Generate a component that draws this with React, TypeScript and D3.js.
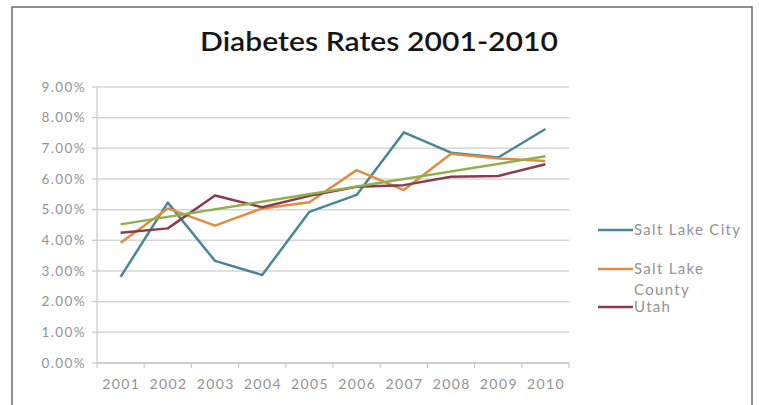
import React from "react";
import * as d3 from "d3";

const years = ["2001","2002","2003","2004","2005","2006","2007","2008","2009","2010"];
const saltLakeCity = [2.81, 5.23, 3.33, 2.87, 4.93, 5.48, 7.52, 6.86, 6.70, 7.63];
const saltLakeCounty = [3.92, 5.04, 4.48, 5.04, 5.24, 6.29, 5.64, 6.82, 6.67, 6.59];
const utah = [4.25, 4.39, 5.46, 5.08, 5.45, 5.75, 5.80, 6.07, 6.10, 6.48];
const trendEnds = [4.52, 6.74];
const yTicks = [0, 1, 2, 3, 4, 5, 6, 7, 8, 9];

const series = [
  { name: "Salt Lake City", values: saltLakeCity, color: "#4a8698" },
  { name: "Salt Lake County", values: saltLakeCounty, color: "#e08d3e" },
  { name: "Utah", values: utah, color: "#8c3a4c" },
];

export default function App() {
  const W = 759, H = 405;
  const left = 97, right = 569, top = 87, bottom = 363;
  const x = d3.scaleBand().domain(years).range([left, right]).padding(0);
  const y = d3.scaleLinear().domain([0, 9]).range([bottom, top]);
  const cx = (yr: string) => (x(yr) as number) + x.bandwidth() / 2;
  const line = d3.line<number>().x((_, i) => cx(years[i])).y((v) => y(v));
  const font = "Lato, 'Open Sans', sans-serif";
  const grey = "#939393";
  const trendX = [cx(years[0]), cx(years[years.length - 1])];

  const legend = [
    { s: series[0], ly: 230, lines: ["Salt Lake City"] },
    { s: series[1], ly: 269, lines: ["Salt Lake", "County"] },
    { s: series[2], ly: 307, lines: ["Utah"] },
  ];

  return (
    <svg width={W} height={H} style={{ position: "absolute", left: 0, top: 0, background: "#fff" }}>
      <rect x={12} y={7} width={740} height={430} fill="#fff" stroke="#6a6a6a" strokeWidth={1.5} />
      <text x={379} y={51} textAnchor="middle" fontFamily={font} fontSize={26} fontWeight={600} fill="#151515" textLength={358} lengthAdjust="spacingAndGlyphs">
        Diabetes Rates 2001-2010
      </text>
      {yTicks.map((t) => (
        <g key={t}>
          <line x1={left} x2={right} y1={y(t)} y2={y(t)} stroke="#d6d6d6" strokeWidth={1.5} />
          <line x1={left - 5} x2={left} y1={y(t)} y2={y(t)} stroke="#c8c8c8" strokeWidth={1.2} />
          <text x={86} y={y(t) + 4.5} textAnchor="end" fontFamily={font} fontSize={13.5} letterSpacing={1.4} fill={grey}>
            {t.toFixed(2)}%
          </text>
        </g>
      ))}
      <line x1={left} x2={left} y1={top} y2={bottom} stroke="#c8c8c8" strokeWidth={1.2} />
      <line x1={left} x2={right} y1={bottom} y2={bottom} stroke="#c8c8c8" strokeWidth={1.5} />
      {years.map((yr, i) => (
        <g key={yr}>
          <line x1={x(yr) as number} x2={x(yr) as number} y1={bottom} y2={bottom + 5} stroke="#c8c8c8" strokeWidth={1.2} />
          {i === years.length - 1 && (
            <line x1={right} x2={right} y1={bottom} y2={bottom + 5} stroke="#c8c8c8" strokeWidth={1.2} />
          )}
          <text x={cx(yr) + 0.7} y={389} textAnchor="middle" fontFamily={font} fontSize={14} letterSpacing={1.4} fill={grey}>
            {yr}
          </text>
        </g>
      ))}
      {series.map((s) => (
        <path key={s.name} d={line(s.values) || ""} fill="none" stroke={s.color} strokeWidth={2.5} strokeLinejoin="round" />
      ))}
      <line x1={trendX[0]} x2={trendX[1]} y1={y(trendEnds[0])} y2={y(trendEnds[1])} stroke="#8fb04e" strokeWidth={2.5} />
      {legend.map((l) => (
        <g key={l.s.name}>
          <line x1={598} x2={633} y1={l.ly} y2={l.ly} stroke={l.s.color} strokeWidth={2.5} />
          {l.lines.map((t, j) => (
            <text key={t} x={634} y={l.ly + 5 + j * 21} fontFamily={font} fontSize={15} letterSpacing={1.3} fill={grey}>
              {t}
            </text>
          ))}
        </g>
      ))}
    </svg>
  );
}
